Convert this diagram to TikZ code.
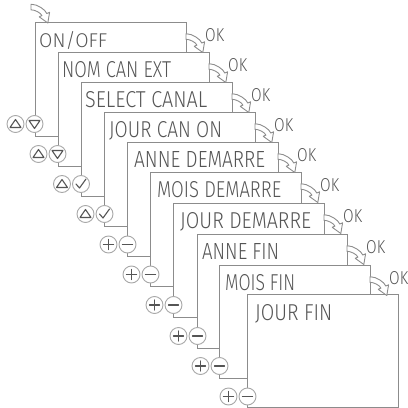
\documentclass[tikz,border=0pt]{standalone}
\usepackage{fontspec}
\usepackage{graphicx}
\IfFontExistsTF{Fira Sans Light}{\newfontfamily\lcdfont{Fira Sans Light}}{\newfontfamily\lcdfont{DejaVu Sans}}
\definecolor{linegray}{HTML}{8C8C8C}
\definecolor{txtgray}{HTML}{555555}
\definecolor{btngray}{HTML}{A8A8A8}
\newcommand\lcdtxt[2]{\resizebox{#1pt}{16pt}{\lcdfont #2}}
\newcommand\oktxt{\resizebox{19pt}{13pt}{\lcdfont OK}}
\tikzset{
  scr/.style={draw=linegray, fill=white, line width=1.2pt, inner sep=0pt, anchor=north west},
  lbl/.style={inner sep=0pt, anchor=base west, text=txtgray},
  oklbl/.style={inner sep=0pt, anchor=base west, text=txtgray},
  btn/.style={circle, draw=btngray, fill=white, line width=0.9pt, minimum size=17pt, inner sep=0pt},
  sym/.style={draw=txtgray, line width=1.1pt, line cap=round, line join=round},
  okarrow/.pic={\filldraw[draw=linegray, fill=white, line width=0.9pt, line join=round]
    (0,-2.8) .. controls (6.5,-2.8) and (14.3,2.6) .. (15.8,6.5) -- (18.6,5.3) -- (16.8,16)
    -- (8.2,9.8) -- (10.9,8.6) .. controls (9.7,5.8) and (4,2.8) .. (0,2.8) -- cycle;},
  upbtn/.pic={\node[btn] (-c) at (0,0) {}; \draw[sym] (-5.5,3.5) -- (5.5,3.5) -- (0,-4.5) -- cycle;},
  downbtn/.pic={\node[btn] (-c) at (0,0) {}; \draw[sym] (-5.5,-3.5) -- (5.5,-3.5) -- (0,4.5) -- cycle;},
  checkbtn/.pic={\node[btn] (-c) at (0,0) {}; \draw[sym] (-5,0) -- (-1.5,4) -- (5,-5);},
  plusbtn/.pic={\node[btn] (-c) at (0,0) {}; \draw[sym] (-5,0) -- (5,0) (0,-5) -- (0,5);},
  minusbtn/.pic={\node[btn] (-c) at (0,0) {}; \draw[sym] (-5,0) -- (5,0);}
}
\begin{document}
\begin{tikzpicture}[x=1pt, y=-1pt]
\useasboundingbox (0,0) rectangle (408,408);
% screens
\foreach \i/\l/\t/\r/\b in {1/35/22/186/136, 2/58/52/209/166, 3/81/82/232/196, 4/104/112/255/226,
  5/127/142/278/256, 6/150/172/301/286, 7/173/203/324/317, 8/197/234/347/348,
  9/219/265/370/378, 10/247/294/398/407}
  {\node[scr, minimum width=\r pt-\l pt, minimum height=\b pt-\t pt] (s\i) at (\l,\t) {};}
% screen texts
\node[lbl] (t1) at (39,47) {\lcdtxt{68}{ON/OFF}};
\node[lbl] (t2) at (62,77) {\lcdtxt{109}{NOM CAN EXT}};
\node[lbl] (t3) at (85,107) {\lcdtxt{122}{SELECT CANAL}};
\node[lbl] (t4) at (109,137) {\lcdtxt{113}{JOUR CAN ON}};
\node[lbl] (t5) at (134,167) {\lcdtxt{131}{ANNE DEMARRE}};
\node[lbl] (t6) at (157,197) {\lcdtxt{124}{MOIS DEMARRE}};
\node[lbl] (t7) at (180,228) {\lcdtxt{131}{JOUR DEMARRE}};
\node[lbl] (t8) at (202,259) {\lcdtxt{77}{ANNE FIN}};
\node[lbl] (t9) at (225,290) {\lcdtxt{70}{MOIS FIN}};
\node[lbl] (t10) at (255,320) {\lcdtxt{77}{JOUR FIN}};
% entry arrow
\pic at (31,7) {okarrow};
% OK arrows and labels
\foreach \i/\r/\t in {1/186/22, 2/209/52, 3/232/82, 4/255/112, 5/278/142, 6/301/172,
  7/324/203, 8/347/234, 9/370/265}
  {\pic at (\r,\t+14.5) {okarrow};
   \node[oklbl] (ok\i) at (\r+19,\t+19.5) {\oktxt};}
% buttons
\pic (b1a) at (15.5,124) {upbtn};   \pic (b1b) at (34.5,124) {downbtn};
\pic (b2a) at (38.5,154) {upbtn};   \pic (b2b) at (57.5,154) {downbtn};
\pic (b3a) at (62,184) {upbtn};     \pic (b3b) at (81,184) {checkbtn};
\pic (b4a) at (85.5,214) {upbtn};   \pic (b4b) at (104.5,214) {checkbtn};
\pic (b5a) at (108.5,244.5) {plusbtn}; \pic (b5b) at (127.5,244.5) {minusbtn};
\pic (b6a) at (131.5,274.5) {plusbtn}; \pic (b6b) at (150.5,274.5) {minusbtn};
\pic (b7a) at (154.5,305) {plusbtn}; \pic (b7b) at (173.5,305) {minusbtn};
\pic (b8a) at (178.5,336) {plusbtn}; \pic (b8b) at (197.5,336) {minusbtn};
\pic (b9a) at (200.5,366) {plusbtn}; \pic (b9b) at (219.5,366) {minusbtn};
\pic (b10a) at (228.5,396.5) {plusbtn}; \pic (b10b) at (247.5,396.5) {minusbtn};
\end{tikzpicture}
\end{document}
